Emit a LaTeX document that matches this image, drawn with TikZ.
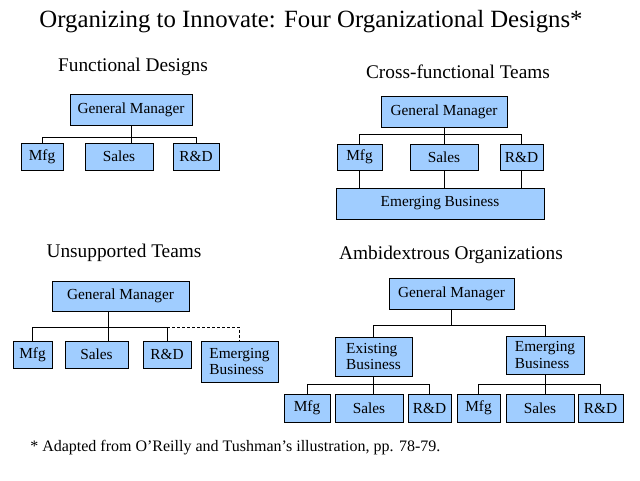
\documentclass[tikz,border=0pt]{standalone}
\usepackage{fontspec}
\setmainfont{Liberation Serif}
\definecolor{boxblue}{RGB}{160,205,255}
\tikzset{
  unit/.style={draw, fill=boxblue, line width=0.75pt, inner sep=1pt, font=\fontsize{11.5}{12.5}\selectfont},
  boxsize/.style 2 args={minimum width=#1*0.75pt, minimum height=#2*0.75pt},
  heading/.style={font=\fontsize{14.5}{16}\selectfont},
  link/.style={line width=0.75pt}
}
\begin{document}
\begin{tikzpicture}[x=0.75pt, y=-0.75pt]
    \useasboundingbox (0,0) rectangle (640,480);
    \node[font=\fontsize{18.6}{20}\selectfont] (title) at (311,22) {Organizing to Innovate: Four Organizational Designs*};

    % Functional Designs
    \node[heading] (fhead) at (133,67) {Functional Designs};
    \node[unit, boxsize={122}{31}] (fGM) at (131,109.5) {General Manager};
    \node[unit, boxsize={42}{27}] (fMfg) at (42,156.5) {Mfg};
    \node[unit, boxsize={68}{27}] (fSales) at (119,156.5) {Sales};
    \node[unit, boxsize={46}{27}] (fRD) at (196,156.5) {R\&D};
    \coordinate (fbus) at (0,137);
    \draw[link] (fGM.south) -- (fGM.south |- fSales.north);
    \draw[link] (fMfg.north) -- (fMfg.north |- fbus) -- (fRD.north |- fbus) -- (fRD.north);

    % Cross-functional Teams
    \node[heading] (chead) at (458,72) {Cross-functional Teams};
    \node[unit, boxsize={126}{31}] (cGM) at (444,111.5) {General Manager};
    \node[unit, boxsize={45}{26}] (cMfg) at (359.5,157) {Mfg};
    \node[unit, boxsize={68}{26}] (cSales) at (444,157) {Sales};
    \node[unit, boxsize={43}{26}] (cRD) at (521.5,157) {R\&D};
    \node[unit, boxsize={208}{31}] (cEmg) at (440,203.5) {Emerging Business};
    \coordinate (cbus) at (0,134);
    \draw[link] (cGM.south) -- (cGM.south |- cSales.north);
    \draw[link] (cMfg.north) -- (cMfg.north |- cbus) -- (cRD.north |- cbus) -- (cRD.north);
    \draw[link] (cMfg.south) -- (cMfg.south |- cEmg.north);
    \draw[link] (cSales.south) -- (cSales.south |- cEmg.north);
    \draw[link] (cRD.south) -- (cRD.south |- cEmg.north);

    % Unsupported Teams
    \node[heading] (uhead) at (124,253) {Unsupported Teams};
    \node[unit, boxsize={137}{30}] (uGM) at (120.5,296) {General Manager};
    \node[unit, boxsize={39}{27}] (uMfg) at (32.5,354.5) {Mfg};
    \node[unit, boxsize={63}{27}] (uSales) at (96.5,354.5) {Sales};
    \node[unit, boxsize={48}{27}] (uRD) at (167,354.5) {R\&D};
    \node[unit, boxsize={77}{41}, align=left] (uEmg) at (239.5,361.5) {Emerging\\Business};
    \coordinate (ubus) at (108,327);
    \draw[link] (uGM.south -| ubus) -- (uSales.north -| ubus);
    \draw[link] (uMfg.north) -- (uMfg.north |- ubus) -- (uRD.north |- ubus) -- (uRD.north);
    \draw[link, dashed, dash pattern=on 2.25pt off 1.5pt] (uRD.north |- ubus) -- (uEmg.north |- ubus) -- (uEmg.north);

    % Ambidextrous Organizations
    \node[heading] (ahead) at (451,255) {Ambidextrous Organizations};
    \node[unit, boxsize={125}{31}] (aGM) at (451.5,293.5) {General Manager};
    \node[unit, boxsize={77}{39}, align=left] (aExist) at (373.5,356.5) {Existing\\Business};
    \node[unit, boxsize={78}{38}, align=left] (aEmg) at (545,355) {Emerging\\Business};
    \node[unit, boxsize={46}{28}] (aMfgL) at (307,408) {Mfg};
    \node[unit, boxsize={68}{28}] (aSalesL) at (369,408) {Sales};
    \node[unit, boxsize={43}{28}] (aRDL) at (429.5,408) {R\&D};
    \node[unit, boxsize={43}{28}] (aMfgR) at (478.5,408) {Mfg};
    \node[unit, boxsize={68}{28}] (aSalesR) at (540,408) {Sales};
    \node[unit, boxsize={45}{28}] (aRDR) at (600.5,408) {R\&D};
    \coordinate (abus) at (0,325);
    \coordinate (asub) at (0,384);
    \draw[link] (aGM.south) -- (aGM.south |- abus);
    \draw[link] (aExist.north) -- (aExist.north |- abus) -- (aEmg.north |- abus) -- (aEmg.north);
    \draw[link] (aExist.south) -- (aExist.south |- aSalesL.north);
    \draw[link] (aMfgL.north) -- (aMfgL.north |- asub) -- (aRDL.north |- asub) -- (aRDL.north);
    \draw[link] (aEmg.south) -- (aEmg.south |- aSalesR.north);
    \draw[link] (aMfgR.north) -- (aMfgR.north |- asub) -- (aRDR.north |- asub) -- (aRDR.north);

    % footnote
    \node[anchor=west, inner sep=0pt, font=\fontsize{12}{13}\selectfont] (note) at (30,448) {* Adapted from O'Reilly and Tushman's illustration, pp. 78-79.};
\end{tikzpicture}
\end{document}
